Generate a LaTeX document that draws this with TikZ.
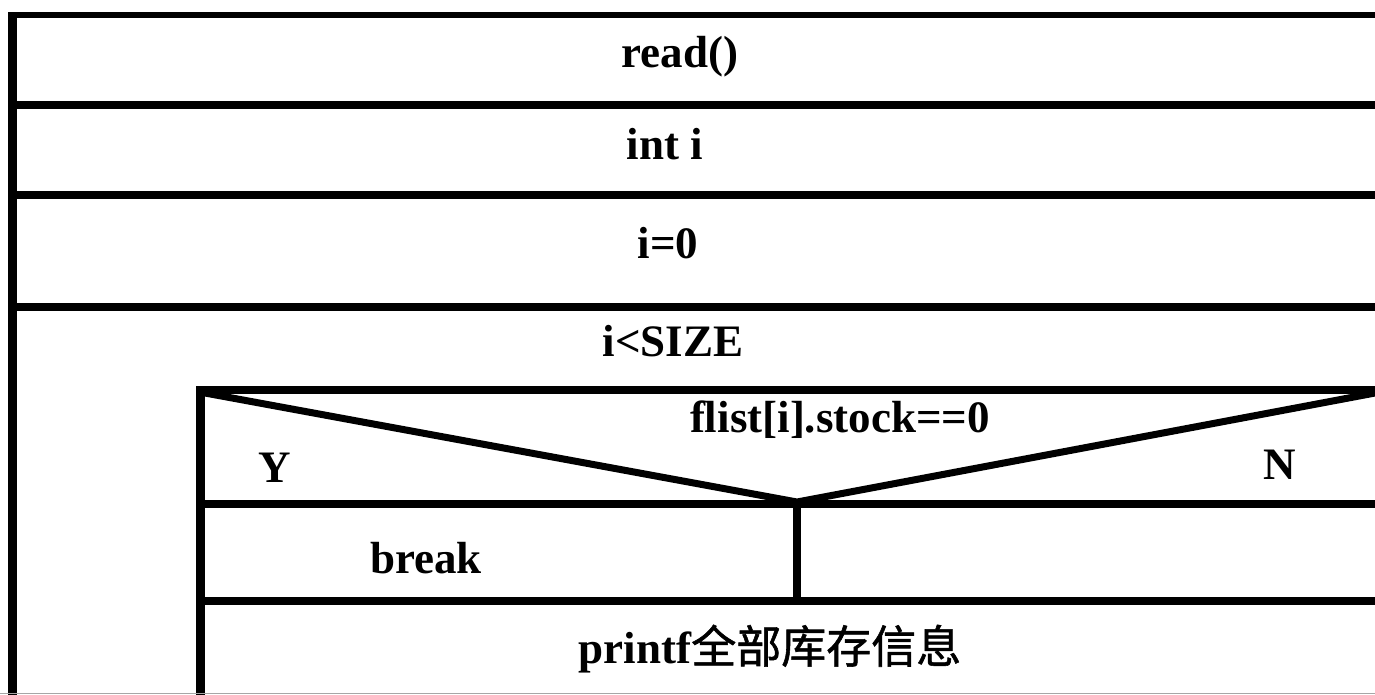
\documentclass[tikz,border=0pt]{standalone}
\usepackage{fontspec}
\setmainfont{Liberation Serif}
\newfontfamily\cjk[FakeBold=1.2]{Noto Sans CJK SC}
\begin{document}
\begin{tikzpicture}[x=1pt,y=-1pt,
  bar/.style={line width=8pt},
  diag/.style={line width=7pt},
  lbl/.style={font=\fontsize{45}{50}\selectfont\bfseries, anchor=base, inner sep=0pt}]
\useasboundingbox (0,0) rectangle (1375,694);
\fill[white] (0,0) rectangle (1375,694);
% outer frame
\draw[line width=6pt] (8,15) -- (1380,15);
\draw[line width=9pt] (12.5,12) -- (12.5,700);
\draw[bar] (8,104.5) -- (1380,104.5);
\draw[bar] (8,195) -- (1380,195);
\draw[bar] (8,307) -- (1380,307);
% inner loop body
\draw[line width=8pt] (196,390) -- (1380,390);
\draw[line width=9pt] (200.5,386) -- (200.5,700);
\coordinate (tl) at (205,393);
\coordinate (tip) at (797,502);
\coordinate (tr) at (1375,393);
\draw[diag] (tl) -- (tip) -- (tr);
\draw[bar] (200,504) -- (1380,504);
\draw[bar] (797,504) -- (797,601);
\draw[bar] (200,601) -- (1380,601);
\draw[gray!70, line width=1pt] (0,693.5) -- (1375,693.5);
% texts
\node[lbl] (t1) at (680,67) {read()};
\node[lbl] (t2) at (665,159) {int i};
\node[lbl] (t3) at (668,258) {i=0};
\node[lbl] (t4) at (673,356) {i<SIZE};
\node[lbl] (t5) at (840,432) {flist[i].stock==0};
\node[lbl] (ty) at (275,482) {Y};
\node[lbl] (tn) at (1280,479) {N};
\node[lbl] (t6) at (426,573) {break};
\node[lbl] (t7) at (770,663) {printf{\cjk\mdseries 全部库存信息}};
\end{tikzpicture}
\end{document}
